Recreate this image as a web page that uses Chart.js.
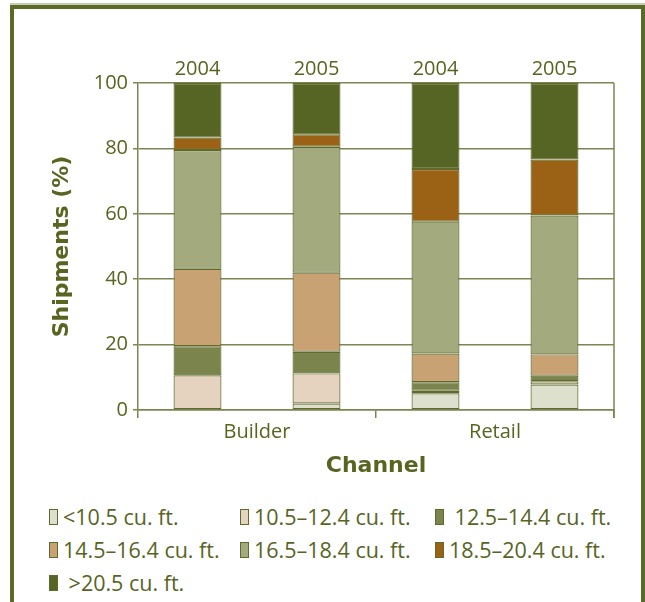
<!DOCTYPE html>
<html lang="en">
  <head>
    <meta charset="UTF-8" />
    <meta name="viewport" content="width=device-width, initial-scale=1.0" />
    <title>Shipments by Channel</title>
  </head>
  <style>
    * {
      margin: 0;
      padding: 0;
      box-sizing: border-box;
    }
    body {
      width: 645px;
      height: 602px;
      background: white;
      position: relative;
      overflow: hidden;
      font-family: "Open Sans", sans-serif;
    }
    .frameShade {
      position: absolute;
      left: 10px;
      top: 3px;
      width: 635px;
      height: 2px;
      background: #c9ccb5;
    }
    .frame {
      position: absolute;
      left: 10px;
      top: 5px;
      width: 635px;
      height: 620px;
      border: 4px solid #5b6a24;
      border-bottom: none;
    }
    #myChart {
      position: absolute;
      left: 0;
      top: 0;
    }
    .legend {
      position: absolute;
      left: 49px;
      top: 500px;
      display: grid;
      grid-template-columns: 191px 195px 200px;
      grid-auto-rows: 33px;
      color: #58641f;
      font-size: 21.5px;
    }
    .legend div {
      display: flex;
      align-items: center;
      white-space: pre;
    }
    .legend span.box {
      display: inline-block;
      width: 9px;
      height: 16px;
      border: 1.5px solid #5f6b2c;
      margin-right: 5px;
    }
  </style>
  <body>
    <div class="frameShade"></div>
    <div class="frame"></div>
    <canvas id="myChart" width="645" height="490"></canvas>
    <div class="legend" id="legend"></div>

    <script src="https://cdn.jsdelivr.net/npm/chart.js"></script>

    <script>
      // data block
      const bars = ["2004", "2005", "2004", "2005"];
      const channels = ["Builder", "Retail"];
      const sizeClasses = [
        "<10.5 cu. ft.",
        "10.5–12.4 cu. ft.",
        " 12.5–14.4 cu. ft.",
        "14.5–16.4 cu. ft.",
        "16.5–18.4 cu. ft.",
        "18.5–20.4 cu. ft.",
        " >20.5 cu. ft."
      ];
      const under105 = [0, 2.0, 5.1, 7.8];
      const from105 = [10.6, 9.2, 0.8, 1.0];
      const from125 = [8.9, 6.6, 2.6, 1.7];
      const from145 = [23.7, 24.2, 8.8, 6.5];
      const from165 = [36.3, 38.5, 40.3, 42.5];
      const from185 = [3.8, 3.8, 16.1, 17.1];
      const over205 = [16.7, 15.7, 26.3, 23.4];

      const seriesValues = [under105, from105, from125, from145, from165, from185, over205];
      const fills = ["#dde0cd", "#e6d3bf", "#7a844c", "#c9a274", "#a2aa7e", "#9b6216", "#566424"];

      const textColor = "#58641f";
      const gridColor = "#7d8652";
      const family = "'Open Sans', sans-serif";
      const titleFont = { family: "'DejaVu Sans', sans-serif", size: 22, weight: "bold" };

      const data = {
        labels: bars,
        datasets: seriesValues.map((values, i) => ({
          label: sizeClasses[i].trim(),
          data: values,
          backgroundColor: fills[i],
          borderColor: "#5f6b2c",
          borderWidth: (ctx) => (ctx.raw === 0 ? 0 : 1.2),
          borderSkipped: false,
          barPercentage: 0.403,
          categoryPercentage: 1
        }))
      };

      // right edge of the plot box, running down to the tick
      const plotEdge = {
        id: "plotEdge",
        beforeDatasetsDraw(chart) {
          const { ctx, chartArea } = chart;
          ctx.save();
          ctx.strokeStyle = gridColor;
          ctx.lineWidth = 1.5;
          ctx.beginPath();
          ctx.moveTo(chartArea.right, chartArea.top);
          ctx.lineTo(chartArea.right, chartArea.bottom + 8);
          ctx.stroke();
          ctx.restore();
        }
      };

      // config block
      const config = {
        type: "bar",
        data,
        options: {
          responsive: false,
          animation: false,
          layout: { padding: { left: 0, right: 31, top: 53, bottom: 0 } },
          scales: {
            x: {
              position: "top",
              stacked: true,
              grid: { display: false, drawTicks: false },
              border: { display: false },
              ticks: { color: textColor, font: { family, size: 20 }, padding: 2 },
              afterFit(scale) {
                scale.height = 30;
              }
            },
            x2: {
              type: "category",
              position: "bottom",
              labels: channels,
              offset: true,
              grid: {
                offset: true,
                drawOnChartArea: false,
                tickLength: 8,
                color: gridColor,
                lineWidth: 1.5
              },
              border: { color: gridColor, width: 1.5 },
              ticks: { color: textColor, font: { family, size: 20 }, padding: 2 },
              title: {
                display: true,
                text: "Channel",
                color: textColor,
                font: titleFont,
                padding: { top: 0, bottom: 11 }
              },
              afterFit(scale) {
                scale.height = 80;
              }
            },
            y: {
              stacked: true,
              min: 0,
              max: 100,
              ticks: { stepSize: 20, color: textColor, font: { family, size: 20 }, padding: 5 },
              grid: { color: gridColor, lineWidth: 1.5, tickLength: 5 },
              border: { color: gridColor, width: 1.5 },
              title: {
                display: true,
                text: "Shipments (%)",
                color: textColor,
                font: titleFont,
                padding: { top: 49, bottom: 0 }
              },
              afterFit(scale) {
                scale.width = 138;
              }
            }
          },
          plugins: {
            legend: { display: false },
            tooltip: { enabled: false }
          }
        },
        plugins: [plotEdge]
      };

      // init render block
      const myChart = new Chart(document.getElementById("myChart"), config);

      // legend in three columns, built from the datasets
      const legendBox = document.getElementById("legend");
      data.datasets.forEach((ds, i) => {
        const item = document.createElement("div");
        const box = document.createElement("span");
        box.className = "box";
        box.style.background = ds.backgroundColor;
        item.appendChild(box);
        item.appendChild(document.createTextNode(sizeClasses[i]));
        legendBox.appendChild(item);
      });
    </script>
  </body>
</html>
